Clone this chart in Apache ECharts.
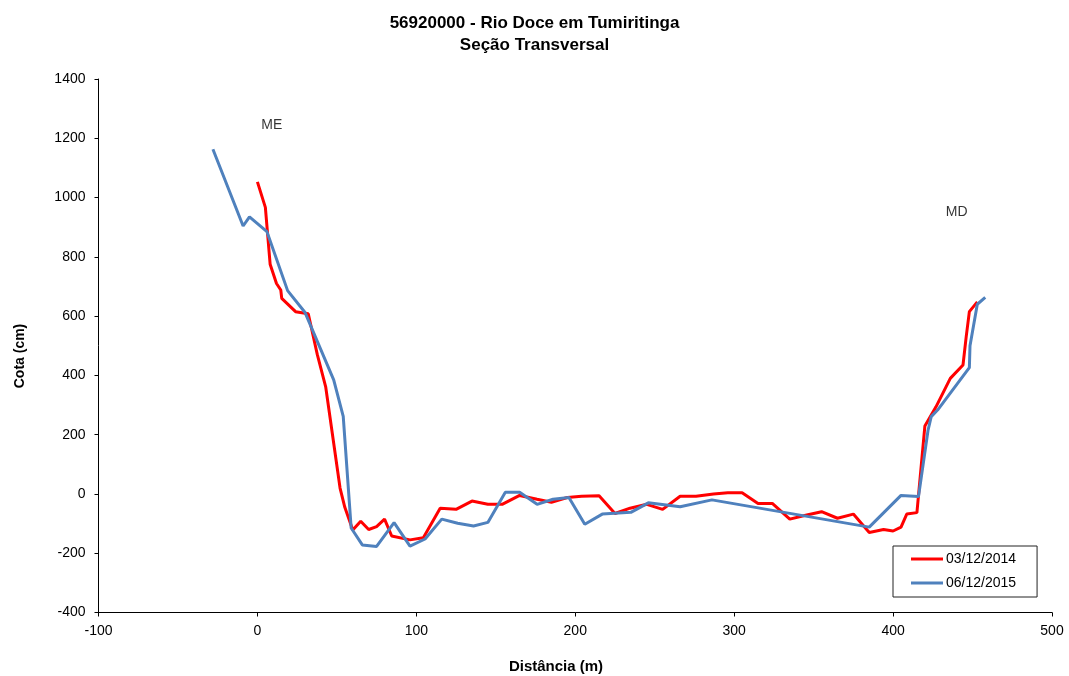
<!DOCTYPE html>
<html>
<head>
<meta charset="utf-8">
<script src="https://cdn.jsdelivr.net/npm/echarts@6/dist/echarts.min.js"></script>
<style>
  html, body { margin: 0; padding: 0; background: #fff; }
  #chart { width: 1069px; height: 676px; }
</style>
</head>
<body>
<div id="chart"></div>
<script>
// Cross-section survey of station 56920000 (Rio Doce em Tumiritinga)
const seriesNames = ['03/12/2014', '06/12/2015'];

// Survey 03/12/2014: distance (m) and elevation (cm)
const dist2014 = [0, 5, 8, 12, 14.7, 15.3, 24, 32, 37.7, 43, 52, 55, 60, 65, 70, 75, 80, 84.5, 96, 104.4,
  115, 125, 135, 145, 154, 165, 176, 185, 195, 204, 215, 225, 234.5, 245, 255, 266, 276, 287, 296, 305,
  315, 324, 335, 345, 355, 365, 375, 385, 394, 400, 405, 408.6, 415, 420, 427, 436, 444, 446, 448, 453];
const cota2014 = [1053, 967, 775, 710, 688, 660, 615, 608, 470, 360, 20, -45, -122, -92, -120, -110, -85, -142, -155, -148,
  -48, -52, -24, -35, -35, -5, -18, -28, -12, -8, -6, -66, -48, -35, -52, -8, -8, 0, 4, 4,
  -32, -32, -85, -72, -60, -82, -68, -130, -120, -125, -112, -68, -63, 229, 294, 390, 435, 530, 615, 648];

// Survey 06/12/2015
const dist2015 = [-28, -9, -5, 6, 19, 30, 48, 54, 59, 66, 75, 86, 96, 105.5, 116, 126, 136, 145, 156, 165,
  176, 186, 196, 206, 217, 235, 246, 266, 286, 385, 405, 416, 422, 424, 428, 448, 448.4, 453, 458];
const cota2015 = [1163, 904, 935, 885, 686, 612, 385, 262, -115, -172, -177, -97, -176, -152, -85, -99, -108, -96, 6, 6,
  -35, -18, -12, -102, -68, -62, -30, -43, -20, -112, -5, -9, 215, 261, 283, 426, 500, 640, 663];

// Bank labels (margem esquerda / margem direita)
const bankNames = ['ME', 'MD'];
const bankDist = [9, 440];
const bankCota = [1245, 950];

const zip = (xs, ys) => xs.map((x, i) => [x, ys[i]]);
const font = 'Arial, "Liberation Sans", sans-serif';
const lineIcon = 'path://M0,0 L32,0 L32,3 L0,3 Z';

const chart = echarts.init(document.getElementById('chart'), null, { renderer: 'canvas' });

chart.setOption({
  backgroundColor: '#ffffff',
  animation: false,
  title: {
    text: '56920000 - Rio Doce em Tumiritinga\nSeção Transversal',
    left: 'center',
    top: 7,
    textStyle: { fontFamily: font, fontSize: 17, fontWeight: 'bold', color: '#000', lineHeight: 22 }
  },
  grid: { left: 98.5, right: 17, top: 79, bottom: 63.5, containLabel: false },
  legend: {
    data: seriesNames.map(n => ({ name: n, icon: lineIcon })),
    orient: 'vertical',
    left: 893,
    top: 546,
    padding: [6, 21, 7, 18],
    itemGap: 10,
    itemWidth: 32,
    itemHeight: 3,
    borderColor: '#222',
    borderWidth: 1,
    textStyle: { fontFamily: font, fontSize: 14, color: '#000', padding: [0, 0, 0, -2], lineHeight: 14 }
  },
  xAxis: {
    type: 'value',
    min: -100,
    max: 500,
    interval: 100,
    axisLine: { show: true, onZero: false, lineStyle: { color: '#000', width: 1 } },
    axisTick: { show: true, length: 4, lineStyle: { color: '#000' } },
    axisLabel: { fontFamily: font, fontSize: 14, color: '#000', margin: 12 },
    splitLine: { show: false }
  },
  yAxis: {
    type: 'value',
    min: -400,
    max: 1400,
    interval: 200,
    axisLine: { show: true, onZero: false, lineStyle: { color: '#000', width: 1 } },
    axisTick: { show: true, length: 4, lineStyle: { color: '#000' } },
    axisLabel: { fontFamily: font, fontSize: 14, color: '#000', margin: 13, formatter: v => String(v) },
    splitLine: { show: false }
  },
  graphic: [
    {
      type: 'text',
      x: 556,
      y: 667,
      style: { text: 'Distância (m)', font: 'bold 15px ' + font, fill: '#000', align: 'center', verticalAlign: 'middle' }
    },
    {
      type: 'text',
      x: 20,
      y: 356,
      rotation: Math.PI / 2,
      style: { text: 'Cota (cm)', font: 'bold 14px ' + font, fill: '#000', align: 'center', verticalAlign: 'middle' }
    }
  ],
  series: [
    {
      name: seriesNames[0],
      type: 'line',
      data: zip(dist2014, cota2014),
      showSymbol: false,
      symbol: 'none',
      lineStyle: { color: '#ff0000', width: 3 },
      itemStyle: { color: '#ff0000' }
    },
    {
      name: seriesNames[1],
      type: 'line',
      data: zip(dist2015, cota2015),
      showSymbol: false,
      symbol: 'none',
      lineStyle: { color: '#4f81bd', width: 3 },
      itemStyle: { color: '#4f81bd' }
    },
    {
      name: 'banks',
      type: 'scatter',
      symbolSize: 0,
      silent: true,
      data: bankNames.map((n, i) => ({ name: n, value: [bankDist[i], bankCota[i]] })),
      label: {
        show: true,
        position: 'inside',
        formatter: p => p.name,
        fontFamily: font,
        fontSize: 14,
        color: '#000'
      }
    }
  ]
});
</script>
</body>
</html>
